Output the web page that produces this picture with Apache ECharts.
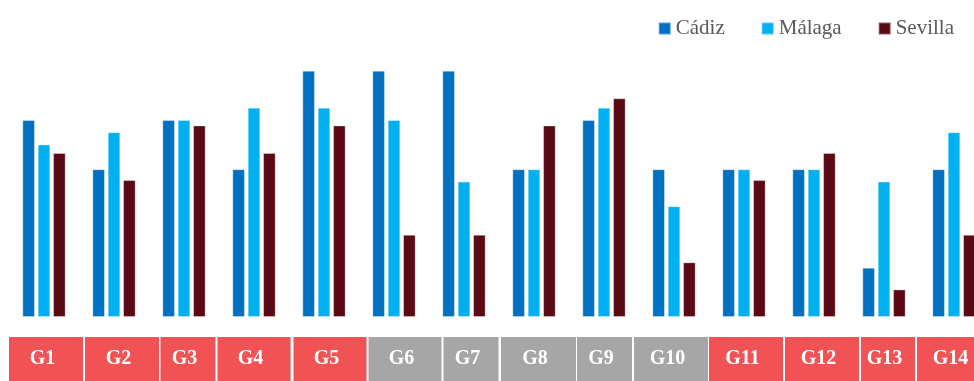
<!DOCTYPE html>
<html>
<head>
<meta charset="utf-8">
<script src="https://cdn.jsdelivr.net/npm/echarts@6/dist/echarts.min.js"></script>
<style>
html,body{margin:0;padding:0;background:#fff;}
#chart{width:974px;height:381px;}
</style>
</head>
<body>
<div id="chart"></div>
<script>
// ---- data ----
const categories = ['G1','G2','G3','G4','G5','G6','G7','G8','G9','G10','G11','G12','G13','G14'];
const seriesNames = ['Cádiz','Málaga','Sevilla'];
const cadiz   = [4, 3, 4, 3, 5, 5, 5, 3, 4, 3, 3, 3, 1, 3];
const malaga  = [3.5, 3.75, 4, 4.25, 4.25, 4, 2.75, 3, 4.25, 2.25, 3, 3, 2.75, 3.75];
const sevilla = [3.33, 2.78, 3.89, 3.33, 3.89, 1.67, 1.67, 3.89, 4.44, 1.11, 2.78, 3.33, 0.56, 1.67];
const groupType = ['r','r','r','r','r','g','g','g','g','g','r','r','r','r'];

// ---- layout / style (not data) ----
const colors = ['#0070C0', '#00B0F0', '#5A0A15'];
const boxColor = { r: '#F15254', g: '#A6A6A6' };
const boxWidth  = [74, 74, 55, 73, 73, 73, 55, 75, 55, 74, 74, 74, 54, 74];
const boxShift  = [2, 8, 4, 0, 6, 11, 7, 4.5, 0.5, -3, 2, 8, 4, 0];
const FONT = '"Liberation Serif", "DejaVu Serif", serif';

const rich = {};
categories.forEach((c, i) => {
  rich['b' + i] = {
    width: boxWidth[i] - 7,
    height: 44,
    lineHeight: 44,
    padding: [0, 7, 0, 0],
    align: 'center',
    backgroundColor: boxColor[groupType[i]],
    color: '#ffffff',
    fontFamily: FONT,
    fontWeight: 'bold',
    fontSize: 20
  };
  rich['s' + i] = { width: Math.abs(boxShift[i]) * 2, height: 44 };
});

const chart = echarts.init(document.getElementById('chart'), null, { renderer: 'canvas' });
const seriesData = [cadiz, malaga, sevilla];

chart.setOption({
  animation: false,
  backgroundColor: '#ffffff',
  legend: {
    right: 15,
    top: 13,
    itemWidth: 12,
    itemHeight: 12,
    itemGap: 36,
    icon: 'rect',
    textStyle: { fontFamily: FONT, fontSize: 21, color: '#595959' },
    data: seriesNames
  },
  grid: { left: 9, width: 980, top: 70.7, height: 246.3, containLabel: false, outerBoundsMode: 'none' },
  xAxis: {
    type: 'category',
    data: categories,
    axisLine: { show: false },
    axisTick: { show: false },
    axisLabel: {
      interval: 0,
      margin: 20,
      hideOverlap: false,
      formatter: function (v, i) {
        const s = boxShift[i];
        if (s >= 0) return '{s' + i + '| }{b' + i + '|' + v + '}';
        return '{b' + i + '|' + v + '}{s' + i + '| }';
      },
      rich: rich
    }
  },
  yAxis: {
    type: 'value',
    min: 0,
    max: 5,
    show: false,
    splitLine: { show: false }
  },
  series: seriesNames.map((n, k) => ({
    name: n,
    type: 'bar',
    data: seriesData[k],
    barWidth: 12.6,
    barGap: '22%',
    itemStyle: {
      color: colors[k],
      borderColor: 'rgba(255,255,255,0.35)',
      borderWidth: 1
    }
  }))
});
</script>
</body>
</html>
